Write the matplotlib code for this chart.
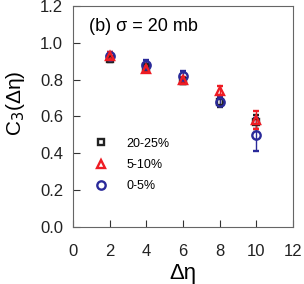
import matplotlib.pyplot as plt
from matplotlib.lines import Line2D

plt.rcParams["font.family"] = ["Liberation Sans", "DejaVu Sans"]

# Delta eta bins
deta = [2, 4, 6, 8, 10]

# C3(delta eta) per centrality class
c3_2025 = [0.91, 0.87, 0.79, 0.68, 0.57]
err_2025 = [0.015, 0.015, 0.015, 0.03, 0.04]

c3_0510 = [0.93, 0.86, 0.80, 0.74, 0.58]
err_0510 = [0.02, 0.015, 0.015, 0.025, 0.05]

c3_0005 = [0.93, 0.88, 0.82, 0.68, 0.50]
err_0005 = [0.02, 0.025, 0.025, 0.025, 0.09]

labels = ["20-25%", "5-10%", "0-5%"]

black = "#222222"
red = "#ee1c24"
blue = "#2a2a9a"

fig = plt.figure(figsize=(3.04, 2.84), dpi=100)
ax = fig.add_axes([0.240, 0.201, 0.724, 0.778])

ax.errorbar(deta, c3_2025, yerr=err_2025, fmt="s", color=black,
            mfc="none", mec=black, ms=5, mew=1.7, capsize=2.5, elinewidth=1)
ax.errorbar(deta, c3_0005, yerr=err_0005, fmt="o", color=blue,
            mfc="none", mec=blue, ms=6, mew=1.7, capsize=2.5, elinewidth=1)
ax.errorbar(deta, c3_0510, yerr=err_0510, fmt="^", color=red,
            mfc="none", mec=red, ms=6, mew=1.7, capsize=2.5, elinewidth=1)

handles = [
    Line2D([], [], ls="none", marker="s", mfc="none", mec=black, ms=5, mew=1.7),
    Line2D([], [], ls="none", marker="^", mfc="none", mec=red, ms=6, mew=1.7),
    Line2D([], [], ls="none", marker="o", mfc="none", mec=blue, ms=6, mew=1.7),
]
ax.legend(handles, labels, loc="center left", bbox_to_anchor=(0.05, 0.28),
          frameon=False, fontsize=9, handletextpad=1.5, labelspacing=0.75,
          handlelength=1.0)

ax.text(0.075, 0.885, "(b) σ = 20 mb", transform=ax.transAxes, fontsize=13)

ax.set_xlim(0, 12)
ax.set_ylim(0, 1.2)
ax.set_xticks([0, 2, 4, 6, 8, 10, 12])
ax.set_yticks([0.0, 0.2, 0.4, 0.6, 0.8, 1.0, 1.2])
ax.set_yticklabels(["0.0", "0.2", "0.4", "0.6", "0.8", "1.0", "1.2"])
ax.tick_params(direction="in", length=5, labelsize=12, colors="#333333",
               labelcolor="#222222")
ax.tick_params(axis="x", pad=12)
ax.tick_params(axis="y", pad=7)
for s in ax.spines.values():
    s.set_color("#666666")

ax.set_xlabel("Δη", fontsize=16, labelpad=3)
ax.set_ylabel("C$_3$(Δη)", fontsize=15)
ax.yaxis.set_label_coords(-0.21, 0.56)

fig.savefig("out.png", dpi=100)
